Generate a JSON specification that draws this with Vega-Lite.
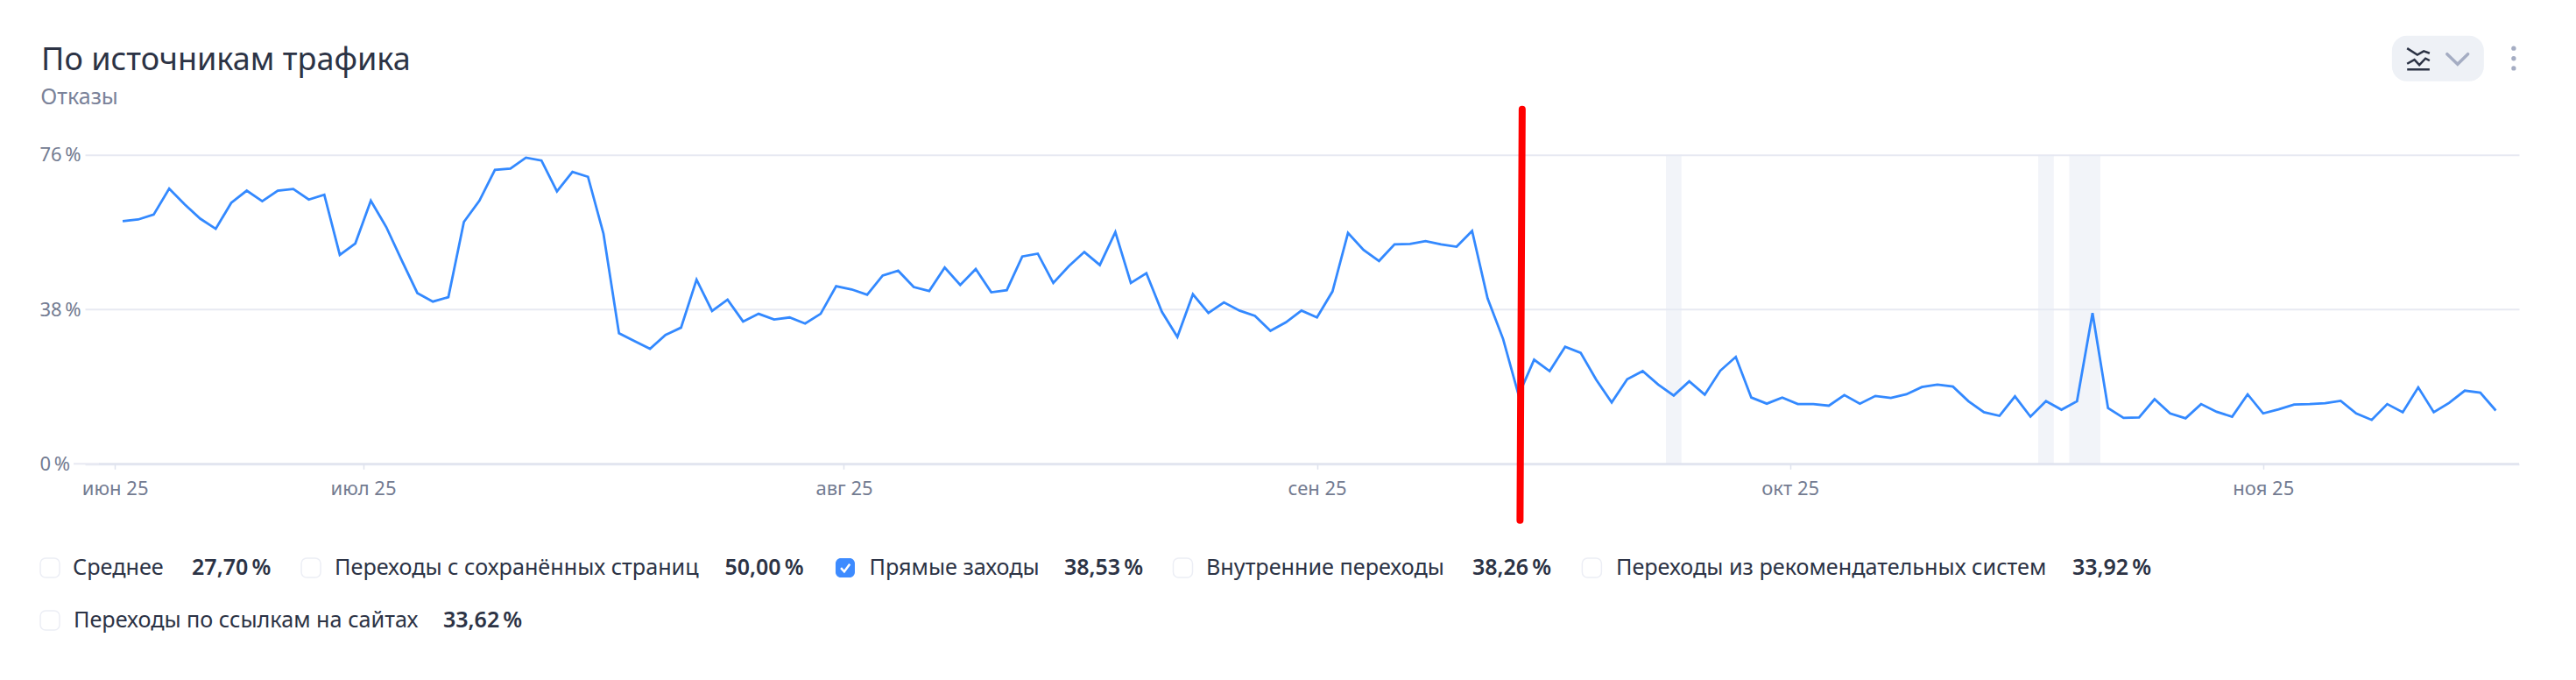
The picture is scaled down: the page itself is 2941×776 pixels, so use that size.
{"$schema":"https://vega.github.io/schema/vega-lite/v6.json","autosize":{"type":"none"},"padding":{"left":97,"top":176.7,"right":65,"bottom":246.7},"width":2779,"height":352.6,"background":"white",
"config":{"view":{"stroke":null}},
"datasets":{"series":[
{"date":"2025-06-15T12:00:00","bounce":59.7},{"date":"2025-06-16T12:00:00","bounce":60.1},{"date":"2025-06-17T12:00:00","bounce":61.3},{"date":"2025-06-18T12:00:00","bounce":67.7},{"date":"2025-06-19T12:00:00","bounce":63.8},{"date":"2025-06-20T12:00:00","bounce":60.3},{"date":"2025-06-21T12:00:00","bounce":57.8},{"date":"2025-06-22T12:00:00","bounce":64.2},{"date":"2025-06-23T12:00:00","bounce":67.2},{"date":"2025-06-24T12:00:00","bounce":64.6},{"date":"2025-06-25T12:00:00","bounce":67.2},{"date":"2025-06-26T12:00:00","bounce":67.6},{"date":"2025-06-27T12:00:00","bounce":65.0},{"date":"2025-06-28T12:00:00","bounce":66.2},{"date":"2025-06-29T12:00:00","bounce":51.4},{"date":"2025-06-30T12:00:00","bounce":54.2},
{"date":"2025-07-01T12:00:00","bounce":64.7},{"date":"2025-07-02T12:00:00","bounce":58.2},{"date":"2025-07-03T12:00:00","bounce":50.0},{"date":"2025-07-04T12:00:00","bounce":42.0},{"date":"2025-07-05T12:00:00","bounce":39.9},{"date":"2025-07-06T12:00:00","bounce":41.0},{"date":"2025-07-07T12:00:00","bounce":59.5},{"date":"2025-07-08T12:00:00","bounce":64.7},{"date":"2025-07-09T12:00:00","bounce":72.3},{"date":"2025-07-10T12:00:00","bounce":72.6},{"date":"2025-07-11T12:00:00","bounce":75.3},{"date":"2025-07-12T12:00:00","bounce":74.6},{"date":"2025-07-13T12:00:00","bounce":67.0},{"date":"2025-07-14T12:00:00","bounce":71.8},{"date":"2025-07-15T12:00:00","bounce":70.6},{"date":"2025-07-16T12:00:00","bounce":56.6},{"date":"2025-07-17T12:00:00","bounce":32.1},{"date":"2025-07-18T12:00:00","bounce":30.2},{"date":"2025-07-19T12:00:00","bounce":28.3},{"date":"2025-07-20T12:00:00","bounce":31.7},{"date":"2025-07-21T12:00:00","bounce":33.5},{"date":"2025-07-22T12:00:00","bounce":45.3},{"date":"2025-07-23T12:00:00","bounce":37.6},{"date":"2025-07-24T12:00:00","bounce":40.4},{"date":"2025-07-25T12:00:00","bounce":35.0},{"date":"2025-07-26T12:00:00","bounce":36.9},{"date":"2025-07-27T12:00:00","bounce":35.5},{"date":"2025-07-28T12:00:00","bounce":36.0},{"date":"2025-07-29T12:00:00","bounce":34.5},{"date":"2025-07-30T12:00:00","bounce":36.9},{"date":"2025-07-31T12:00:00","bounce":43.7},
{"date":"2025-08-01T12:00:00","bounce":42.9},{"date":"2025-08-02T12:00:00","bounce":41.6},{"date":"2025-08-03T12:00:00","bounce":46.3},{"date":"2025-08-04T12:00:00","bounce":47.5},{"date":"2025-08-05T12:00:00","bounce":43.5},{"date":"2025-08-06T12:00:00","bounce":42.5},{"date":"2025-08-07T12:00:00","bounce":48.3},{"date":"2025-08-08T12:00:00","bounce":44.0},{"date":"2025-08-09T12:00:00","bounce":47.9},{"date":"2025-08-10T12:00:00","bounce":42.2},{"date":"2025-08-11T12:00:00","bounce":42.7},{"date":"2025-08-12T12:00:00","bounce":51.0},{"date":"2025-08-13T12:00:00","bounce":51.7},{"date":"2025-08-14T12:00:00","bounce":44.5},{"date":"2025-08-15T12:00:00","bounce":48.6},{"date":"2025-08-16T12:00:00","bounce":52.1},{"date":"2025-08-17T12:00:00","bounce":48.9},{"date":"2025-08-18T12:00:00","bounce":57.0},{"date":"2025-08-19T12:00:00","bounce":44.5},{"date":"2025-08-20T12:00:00","bounce":46.9},{"date":"2025-08-21T12:00:00","bounce":37.4},{"date":"2025-08-22T12:00:00","bounce":31.2},{"date":"2025-08-23T12:00:00","bounce":41.7},{"date":"2025-08-24T12:00:00","bounce":37.1},{"date":"2025-08-25T12:00:00","bounce":39.7},{"date":"2025-08-26T12:00:00","bounce":37.7},{"date":"2025-08-27T12:00:00","bounce":36.4},{"date":"2025-08-28T12:00:00","bounce":32.7},{"date":"2025-08-29T12:00:00","bounce":34.8},{"date":"2025-08-30T12:00:00","bounce":37.7},{"date":"2025-08-31T12:00:00","bounce":36.0},
{"date":"2025-09-01T12:00:00","bounce":42.4},{"date":"2025-09-02T12:00:00","bounce":56.8},{"date":"2025-09-03T12:00:00","bounce":52.6},{"date":"2025-09-04T12:00:00","bounce":49.9},{"date":"2025-09-05T12:00:00","bounce":54.0},{"date":"2025-09-06T12:00:00","bounce":54.1},{"date":"2025-09-07T12:00:00","bounce":54.8},{"date":"2025-09-08T12:00:00","bounce":54.0},{"date":"2025-09-09T12:00:00","bounce":53.4},{"date":"2025-09-10T12:00:00","bounce":57.3},{"date":"2025-09-11T12:00:00","bounce":40.7},{"date":"2025-09-12T12:00:00","bounce":30.7},{"date":"2025-09-13T12:00:00","bounce":16.9},{"date":"2025-09-14T12:00:00","bounce":25.6},{"date":"2025-09-15T12:00:00","bounce":22.8},{"date":"2025-09-16T12:00:00","bounce":28.8},{"date":"2025-09-17T12:00:00","bounce":27.3},{"date":"2025-09-18T12:00:00","bounce":20.7},{"date":"2025-09-19T12:00:00","bounce":15.1},{"date":"2025-09-20T12:00:00","bounce":20.8},{"date":"2025-09-21T12:00:00","bounce":22.8},{"date":"2025-09-22T12:00:00","bounce":19.5},{"date":"2025-09-23T12:00:00","bounce":16.8},{"date":"2025-09-24T12:00:00","bounce":20.3},{"date":"2025-09-25T12:00:00","bounce":17.0},{"date":"2025-09-26T12:00:00","bounce":22.9},{"date":"2025-09-27T12:00:00","bounce":26.3},{"date":"2025-09-28T12:00:00","bounce":16.3},{"date":"2025-09-29T12:00:00","bounce":14.8},{"date":"2025-09-30T12:00:00","bounce":16.3},
{"date":"2025-10-01T12:00:00","bounce":14.7},{"date":"2025-10-02T12:00:00","bounce":14.7},{"date":"2025-10-03T12:00:00","bounce":14.3},{"date":"2025-10-04T12:00:00","bounce":16.9},{"date":"2025-10-05T12:00:00","bounce":14.8},{"date":"2025-10-06T12:00:00","bounce":16.7},{"date":"2025-10-07T12:00:00","bounce":16.2},{"date":"2025-10-08T12:00:00","bounce":17.1},{"date":"2025-10-09T12:00:00","bounce":18.9},{"date":"2025-10-10T12:00:00","bounce":19.5},{"date":"2025-10-11T12:00:00","bounce":19.0},{"date":"2025-10-12T12:00:00","bounce":15.4},{"date":"2025-10-13T12:00:00","bounce":12.7},{"date":"2025-10-14T12:00:00","bounce":11.8},{"date":"2025-10-15T12:00:00","bounce":16.6},{"date":"2025-10-16T12:00:00","bounce":11.6},{"date":"2025-10-17T12:00:00","bounce":15.4},{"date":"2025-10-18T12:00:00","bounce":13.3},{"date":"2025-10-19T12:00:00","bounce":15.4},{"date":"2025-10-20T12:00:00","bounce":37.1},{"date":"2025-10-21T12:00:00","bounce":13.7},{"date":"2025-10-22T12:00:00","bounce":11.3},{"date":"2025-10-23T12:00:00","bounce":11.4},{"date":"2025-10-24T12:00:00","bounce":15.9},{"date":"2025-10-25T12:00:00","bounce":12.4},{"date":"2025-10-26T12:00:00","bounce":11.2},{"date":"2025-10-27T12:00:00","bounce":14.7},{"date":"2025-10-28T12:00:00","bounce":12.8},{"date":"2025-10-29T12:00:00","bounce":11.6},{"date":"2025-10-30T12:00:00","bounce":17.1},{"date":"2025-10-31T12:00:00","bounce":12.4},
{"date":"2025-11-01T12:00:00","bounce":13.4},{"date":"2025-11-02T12:00:00","bounce":14.6},{"date":"2025-11-03T12:00:00","bounce":14.7},{"date":"2025-11-04T12:00:00","bounce":14.9},{"date":"2025-11-05T12:00:00","bounce":15.5},{"date":"2025-11-06T12:00:00","bounce":12.4},{"date":"2025-11-07T12:00:00","bounce":10.8},{"date":"2025-11-08T12:00:00","bounce":14.7},{"date":"2025-11-09T12:00:00","bounce":12.7},{"date":"2025-11-10T12:00:00","bounce":18.8},{"date":"2025-11-11T12:00:00","bounce":12.7},{"date":"2025-11-12T12:00:00","bounce":15.0},{"date":"2025-11-13T12:00:00","bounce":18.0},{"date":"2025-11-14T12:00:00","bounce":17.5},{"date":"2025-11-15T12:00:00","bounce":13.1}],
"bands":[{"start":"2025-09-23T00:00:00","end":"2025-09-24T00:00:00"},{"start":"2025-10-17T00:00:00","end":"2025-10-18T00:00:00"},{"start":"2025-10-19T00:00:00","end":"2025-10-21T00:00:00"}],
"marker":[{"date":"2025-09-13T17:30:00","bounce":87.2},{"date":"2025-09-13T14:10:00","bounce":-13.9}],
"icon":[{"part":"a","date":"2025-11-09T18:48:00","bounce":102.2},{"part":"a","date":"2025-11-10T10:36:00","bounce":100.6},{"part":"a","date":"2025-11-10T20:30:00","bounce":101.5},{"part":"a","date":"2025-11-11T05:36:00","bounce":101.0},{"part":"b","date":"2025-11-09T18:48:00","bounce":98.4},{"part":"b","date":"2025-11-10T06:06:00","bounce":99.4},{"part":"b","date":"2025-11-10T13:42:00","bounce":98.1},{"part":"b","date":"2025-11-10T23:12:00","bounce":99.7},{"part":"b","date":"2025-11-11T05:36:00","bounce":99.2},{"part":"c","date":"2025-11-09T18:48:00","bounce":97.0},{"part":"c","date":"2025-11-11T05:36:00","bounce":97.0}],
"chevron":[{"date":"2025-11-12T08:42:00","bounce":100.8},{"date":"2025-11-13T00:54:00","bounce":98.3},{"date":"2025-11-13T16:48:00","bounce":100.8}],
"dots":[{"date":"2025-11-16T15:42:00","bounce":102.2},{"date":"2025-11-16T15:42:00","bounce":99.7},{"date":"2025-11-16T15:42:00","bounce":97.3}]},
"layer":[
{"data":{"name":"bands"},"mark":{"type":"rect","fill":"#e6e9f3","opacity":0.5},"encoding":{"x":{"field":"start","type":"temporal","title":null,"scale":{"domain":[{"year":2025,"month":6,"date":13,"hours":1,"minutes":41},{"year":2025,"month":11,"date":17,"hours":0}]},"axis":{"title":null,"values":[{"year":2025,"month":6,"date":15},{"year":2025,"month":7,"date":1},{"year":2025,"month":8,"date":1},{"year":2025,"month":8,"date":31,"hours":12},{"year":2025,"month":10,"date":1},{"year":2025,"month":10,"date":31,"hours":12}],"labelExpr":"['','','','','','июн 25','июл 25','авг 25','сен 25','окт 25','ноя 25'][month(time(datum.value)+64800000)]","grid":false,"domain":false,"tickColor":"#dfe3ee","tickWidth":1.5,"tickSize":6,"labelFont":"Noto Sans","labelFontSize":22,"labelColor":"#737b91","labelPadding":12,"labelOverlap":false,"labelFlush":false,"labelBound":false}},"x2":{"field":"end"},"y":{"datum":76,"type":"quantitative","title":null,"scale":{"domain":[0,76],"nice":false},"axis":{"title":null,"values":[0,38,76],"labelExpr":"datum.value+'\u202f%'","domain":false,"ticks":false,"grid":true,"gridColor":"#e7e9f2","gridWidth":2,"labelAlign":"left","labelPadding":52,"labelFont":"Noto Sans","labelFontSize":22,"labelColor":"#737b91"}},"y2":{"datum":0}}},
{"data":{"values":[{"part":"zero line"}]},"mark":{"type":"rule","stroke":"#e7e9f2","strokeWidth":2},"encoding":{"x":{"datum":{"year":2025,"month":6,"date":12,"hours":8,"minutes":6},"type":"temporal"},"x2":{"datum":{"year":2025,"month":6,"date":14}},"y":{"datum":0,"type":"quantitative"}}},
{"data":{"values":[{"part":"x axis line"}]},"mark":{"type":"rule","stroke":"#dfe3ee","strokeWidth":2},"encoding":{"x":{"datum":{"year":2025,"month":6,"date":13,"hours":23,"minutes":24},"type":"temporal"},"x2":{"datum":{"year":2025,"month":11,"date":17}},"y":{"datum":0,"type":"quantitative"}}},
{"data":{"name":"series"},"mark":{"type":"line","stroke":"#3389ff","strokeWidth":2.8,"strokeJoin":"miter"},"encoding":{"x":{"field":"date","type":"temporal"},"y":{"field":"bounce","type":"quantitative"}}},
{"data":{"name":"marker"},"mark":{"type":"line","stroke":"#ff0000","strokeWidth":8,"strokeCap":"round"},"encoding":{"x":{"field":"date","type":"temporal"},"y":{"field":"bounce","type":"quantitative"},"order":{"field":"bounce","sort":"descending"}}},
{"data":{"values":[{"part":"pill"}]},"mark":{"type":"rect","fill":"#eef1f6","cornerRadius":17},"encoding":{"x":{"datum":{"year":2025,"month":11,"date":8,"hours":19,"minutes":18},"type":"temporal"},"x2":{"datum":{"year":2025,"month":11,"date":14,"hours":17,"minutes":36}},"y":{"datum":105.3,"type":"quantitative"},"y2":{"datum":94.1}}},
{"data":{"name":"icon"},"mark":{"type":"line","stroke":"#2c3345","strokeWidth":2.5},"encoding":{"x":{"field":"date","type":"temporal"},"y":{"field":"bounce","type":"quantitative"},"detail":{"field":"part"}}},
{"data":{"name":"chevron"},"mark":{"type":"line","stroke":"#a5adc3","strokeWidth":3.5,"strokeCap":"round"},"encoding":{"x":{"field":"date","type":"temporal"},"y":{"field":"bounce","type":"quantitative"}}},
{"data":{"name":"dots"},"mark":{"type":"point","filled":true,"fill":"#a5adc3","opacity":1,"size":28,"shape":"circle"},"encoding":{"x":{"field":"date","type":"temporal"},"y":{"field":"bounce","type":"quantitative"}}},

{"data":{"values":[{"t":"По источникам трафика"}]},"mark":{"type":"text","align":"left","baseline":"alphabetic","font":"Noto Sans","fontSize":36,"fill":"#2c3345"},"encoding":{"x":{"datum":{"year":2025,"month":6,"date":10,"hours":6},"type":"temporal"},"y":{"datum":96.85,"type":"quantitative"},"text":{"field":"t"}}},
{"data":{"values":[{"t":"Отказы"}]},"mark":{"type":"text","align":"left","baseline":"alphabetic","font":"Noto Sans","fontSize":25,"fill":"#7a8299"},"encoding":{"x":{"datum":{"year":2025,"month":6,"date":10,"hours":5},"type":"temporal"},"y":{"datum":88.45,"type":"quantitative"},"text":{"field":"t"}}},

{"data":{"values":[{"item":"Среднее"}]},"mark":{"type":"rect","width":22,"height":22,"cornerRadius":6,"fill":"white","stroke":"#eceef5","strokeWidth":1.5},"encoding":{"x":{"datum":{"year":2025,"month":6,"date":10,"hours":19,"minutes":30},"type":"temporal"},"y":{"datum":-25.6,"type":"quantitative"}}},
{"data":{"values":[{"item":"Переходы с сохранённых страниц"}]},"mark":{"type":"rect","width":22,"height":22,"cornerRadius":6,"fill":"white","stroke":"#eceef5","strokeWidth":1.5},"encoding":{"x":{"datum":{"year":2025,"month":6,"date":27,"hours":15,"minutes":24},"type":"temporal"},"y":{"datum":-25.6,"type":"quantitative"}}},
{"data":{"values":[{"item":"Прямые заходы"}]},"mark":{"type":"rect","width":22,"height":22,"cornerRadius":6,"fill":"#3d8bff"},"encoding":{"x":{"datum":{"year":2025,"month":8,"date":1,"hours":2},"type":"temporal"},"y":{"datum":-25.6,"type":"quantitative"}}},
{"data":{"values":[{"item":"Прямые заходы"}]},"mark":{"type":"point","shape":"M-0.7,0 L-0.15,0.6 L0.75,-0.6","size":196,"filled":false,"stroke":"white","strokeWidth":2.5,"opacity":1},"encoding":{"x":{"datum":{"year":2025,"month":8,"date":1,"hours":2},"type":"temporal"},"y":{"datum":-25.6,"type":"quantitative"}}},
{"data":{"values":[{"item":"Внутренние переходы"}]},"mark":{"type":"rect","width":22,"height":22,"cornerRadius":6,"fill":"white","stroke":"#eceef5","strokeWidth":1.5},"encoding":{"x":{"datum":{"year":2025,"month":8,"date":22,"hours":20,"minutes":30},"type":"temporal"},"y":{"datum":-25.6,"type":"quantitative"}}},
{"data":{"values":[{"item":"Переходы из рекомендательных систем"}]},"mark":{"type":"rect","width":22,"height":22,"cornerRadius":6,"fill":"white","stroke":"#eceef5","strokeWidth":1.5},"encoding":{"x":{"datum":{"year":2025,"month":9,"date":18,"hours":5,"minutes":18},"type":"temporal"},"y":{"datum":-25.6,"type":"quantitative"}}},
{"data":{"values":[{"item":"Переходы по ссылкам на сайтах"}]},"mark":{"type":"rect","width":22,"height":22,"cornerRadius":6,"fill":"white","stroke":"#eceef5","strokeWidth":1.5},"encoding":{"x":{"datum":{"year":2025,"month":6,"date":10,"hours":19,"minutes":30},"type":"temporal"},"y":{"datum":-38.5,"type":"quantitative"}}},

{"data":{"values":[{"t":"Среднее"}]},"mark":{"type":"text","align":"left","baseline":"middle","font":"Noto Sans","fontSize":25.2,"fill":"#2c3345"},"encoding":{"x":{"datum":{"year":2025,"month":6,"date":12,"hours":6,"minutes":48},"type":"temporal"},"y":{"datum":-25.6,"type":"quantitative"},"text":{"field":"t"}}},
{"data":{"values":[{"t":"27,70\u202f%"}]},"mark":{"type":"text","align":"left","baseline":"middle","font":"Noto Sans","fontSize":25,"fontWeight":600,"fill":"#2c3345"},"encoding":{"x":{"datum":{"year":2025,"month":6,"date":19,"hours":23,"minutes":6},"type":"temporal"},"y":{"datum":-25.6,"type":"quantitative"},"text":{"field":"t"}}},
{"data":{"values":[{"t":"Переходы с сохранённых страниц"}]},"mark":{"type":"text","align":"left","baseline":"middle","font":"Noto Sans","fontSize":25.2,"fill":"#2c3345"},"encoding":{"x":{"datum":{"year":2025,"month":6,"date":29,"hours":4},"type":"temporal"},"y":{"datum":-25.6,"type":"quantitative"},"text":{"field":"t"}}},
{"data":{"values":[{"t":"50,00\u202f%"}]},"mark":{"type":"text","align":"left","baseline":"middle","font":"Noto Sans","fontSize":25,"fontWeight":600,"fill":"#2c3345"},"encoding":{"x":{"datum":{"year":2025,"month":7,"date":24,"hours":7,"minutes":42},"type":"temporal"},"y":{"datum":-25.6,"type":"quantitative"},"text":{"field":"t"}}},
{"data":{"values":[{"t":"Прямые заходы"}]},"mark":{"type":"text","align":"left","baseline":"middle","font":"Noto Sans","fontSize":25.2,"fill":"#2c3345"},"encoding":{"x":{"datum":{"year":2025,"month":8,"date":2,"hours":15,"minutes":18},"type":"temporal"},"y":{"datum":-25.6,"type":"quantitative"},"text":{"field":"t"}}},
{"data":{"values":[{"t":"38,53\u202f%"}]},"mark":{"type":"text","align":"left","baseline":"middle","font":"Noto Sans","fontSize":25,"fontWeight":600,"fill":"#2c3345"},"encoding":{"x":{"datum":{"year":2025,"month":8,"date":15,"hours":4,"minutes":48},"type":"temporal"},"y":{"datum":-25.6,"type":"quantitative"},"text":{"field":"t"}}},
{"data":{"values":[{"t":"Внутренние переходы"}]},"mark":{"type":"text","align":"left","baseline":"middle","font":"Noto Sans","fontSize":25.2,"fill":"#2c3345"},"encoding":{"x":{"datum":{"year":2025,"month":8,"date":24,"hours":8,"minutes":24},"type":"temporal"},"y":{"datum":-25.6,"type":"quantitative"},"text":{"field":"t"}}},
{"data":{"values":[{"t":"38,26\u202f%"}]},"mark":{"type":"text","align":"left","baseline":"middle","font":"Noto Sans","fontSize":25,"fontWeight":600,"fill":"#2c3345"},"encoding":{"x":{"datum":{"year":2025,"month":9,"date":10,"hours":12,"minutes":24},"type":"temporal"},"y":{"datum":-25.6,"type":"quantitative"},"text":{"field":"t"}}},
{"data":{"values":[{"t":"Переходы из рекомендательных систем"}]},"mark":{"type":"text","align":"left","baseline":"middle","font":"Noto Sans","fontSize":25.2,"fill":"#2c3345"},"encoding":{"x":{"datum":{"year":2025,"month":9,"date":19,"hours":18,"minutes":36},"type":"temporal"},"y":{"datum":-25.6,"type":"quantitative"},"text":{"field":"t"}}},
{"data":{"values":[{"t":"33,92\u202f%"}]},"mark":{"type":"text","align":"left","baseline":"middle","font":"Noto Sans","fontSize":25,"fontWeight":600,"fill":"#2c3345"},"encoding":{"x":{"datum":{"year":2025,"month":10,"date":19,"hours":4,"minutes":42},"type":"temporal"},"y":{"datum":-25.6,"type":"quantitative"},"text":{"field":"t"}}},
{"data":{"values":[{"t":"Переходы по ссылкам на сайтах"}]},"mark":{"type":"text","align":"left","baseline":"middle","font":"Noto Sans","fontSize":25.2,"fill":"#2c3345"},"encoding":{"x":{"datum":{"year":2025,"month":6,"date":12,"hours":8,"minutes":6},"type":"temporal"},"y":{"datum":-38.5,"type":"quantitative"},"text":{"field":"t"}}},
{"data":{"values":[{"t":"33,62\u202f%"}]},"mark":{"type":"text","align":"left","baseline":"middle","font":"Noto Sans","fontSize":25,"fontWeight":600,"fill":"#2c3345"},"encoding":{"x":{"datum":{"year":2025,"month":7,"date":6,"hours":4},"type":"temporal"},"y":{"datum":-38.5,"type":"quantitative"},"text":{"field":"t"}}}
]}
